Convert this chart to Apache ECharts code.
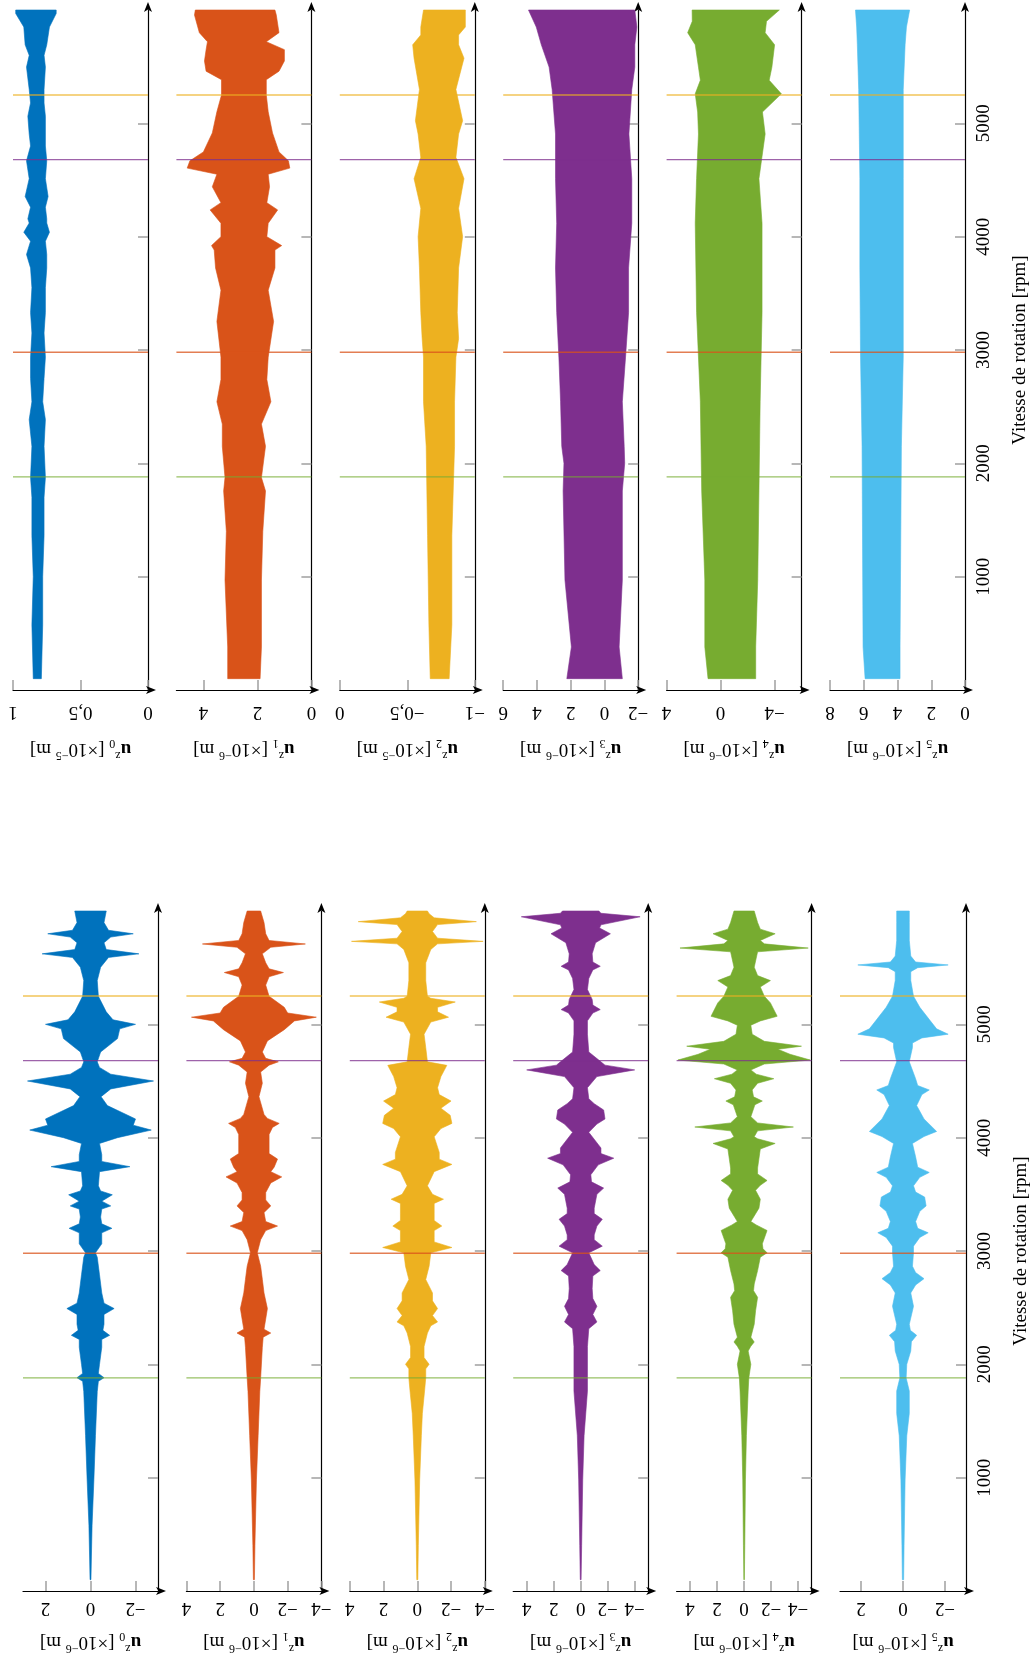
<!DOCTYPE html>
<html><head><meta charset="utf-8">
<script src="https://cdn.jsdelivr.net/npm/echarts@6.0.0/dist/echarts.min.js"></script>
<style>html,body{margin:0;padding:0;background:#fff}#c{width:1032px;height:1659px}</style>
</head><body><div id="c"></div>
<script>
// ---------- data ----------
const seriesColors = ['#0072BD','#D95319','#EDB120','#7E2F8E','#77AC30','#4DBEEE'];
const criticalSpeeds = [1880, 2980, 4680, 5250];
const criticalColors = ['#77AC30','#D95319','#7E2F8E','#EDB120'];
const rpmTicks = [1000, 2000, 3000, 4000, 5000];
const rpmLabel = 'Vitesse de rotation [rpm]';

// top group: mean-displacement bands [rpm, low, high]
const u0Band = [[100,0.79,0.85],[575,0.78,0.86],[1000,0.78,0.85],[1362,0.77,0.86],[1700,0.77,0.86],[1874,0.76,0.87],[2150,0.77,0.86],[2386,0.76,0.88],[2543,0.78,0.86],[2750,0.77,0.87],[2937,0.76,0.87],[3150,0.77,0.86],[3330,0.76,0.87],[3550,0.76,0.86],[3724,0.75,0.87],[3843,0.75,0.90],[3960,0.76,0.87],[4039,0.73,0.92],[4120,0.75,0.88],[4157,0.75,0.89],[4260,0.76,0.87],[4354,0.74,0.91],[4512,0.76,0.88],[4669,0.75,0.90],[4800,0.76,0.87],[4906,0.76,0.88],[5063,0.76,0.89],[5180,0.77,0.87],[5299,0.77,0.88],[5496,0.76,0.90],[5600,0.77,0.88],[5693,0.75,0.91],[5850,0.73,0.92],[5969,0.68,0.98],[6000,0.68,0.98]];
const u1Band = [[100,1.9,3.1],[380,1.85,3.1],[970,1.85,3.2],[1400,1.8,3.15],[1756,1.7,3.25],[1874,1.85,3.2],[2150,1.7,3.3],[2346,1.85,3.3],[2543,1.5,3.5],[2740,1.65,3.35],[2937,1.6,3.35],[3252,1.4,3.5],[3528,1.6,3.35],[3724,1.35,3.55],[3882,1.35,3.6],[3921,1.1,3.7],[4000,1.65,3.35],[4118,1.6,3.35],[4236,1.25,3.75],[4300,1.65,3.35],[4440,1.55,3.67],[4551,1.6,3.5],[4605,0.8,4.6],[4669,0.85,4.5],[4748,1.2,4.0],[4915,1.44,3.67],[5102,1.6,3.5],[5250,1.67,3.33],[5385,1.67,3.33],[5460,1.2,3.9],[5550,1.0,3.96],[5650,1.0,3.9],[5720,1.67,3.85],[5800,1.2,4.15],[5955,1.3,4.33],[6000,1.35,4.3]];
const u2Band = [[100,-0.81,-0.67],[575,-0.83,-0.66],[1362,-0.83,-0.65],[2150,-0.85,-0.64],[2543,-0.85,-0.62],[2937,-0.86,-0.62],[3100,-0.88,-0.61],[3330,-0.87,-0.60],[3724,-0.88,-0.59],[4000,-0.91,-0.58],[4250,-0.88,-0.60],[4512,-0.92,-0.55],[4700,-0.86,-0.60],[4906,-0.88,-0.58],[5023,-0.91,-0.56],[5299,-0.86,-0.59],[5575,-0.92,-0.55],[5693,-0.88,-0.54],[5780,-0.88,-0.60],[5850,-0.93,-0.60],[6000,-0.93,-0.62]];
const u3Band = [[100,-1.06,2.23],[380,-0.87,1.96],[970,-1.06,2.34],[1756,-1.06,2.45],[2000,-1.2,2.4],[2150,-1.17,2.53],[2543,-1.06,2.6],[2937,-1.25,2.7],[3330,-1.43,2.83],[3724,-1.43,2.9],[4118,-1.62,2.83],[4512,-1.62,2.9],[4906,-1.45,2.9],[5299,-1.62,3.1],[5496,-1.8,3.28],[5693,-1.8,3.74],[5850,-1.92,4.04],[6000,-1.8,4.5]];
const u4Band = [[100,-2.6,0.93],[380,-2.6,1.17],[970,-2.75,1.17],[1756,-2.84,1.4],[2543,-2.93,1.5],[3330,-3.07,1.78],[4118,-3.07,1.88],[4512,-2.84,1.78],[4906,-3.3,1.64],[5100,-3.1,1.7],[5260,-4.5,1.88],[5380,-3.6,1.5],[5496,-3.8,1.64],[5693,-4.0,1.88],[5800,-3.3,2.44],[5900,-3.4,2.1],[6000,-4.35,2.11]];
const u5Band = [[100,3.85,5.92],[380,3.85,6.04],[2150,3.77,6.1],[2937,3.66,6.19],[3724,3.66,6.23],[4512,3.66,6.23],[5299,3.66,6.3],[5693,3.55,6.38],[5850,3.47,6.42],[6000,3.28,6.49]];

// bottom group: oscillation envelopes [rpm, amplitude]
const u0Osc = [[100,0.02],[300,0.04],[580,0.07],[980,0.15],[1370,0.22],[1760,0.3],[1850,0.35],[1882,0.6],[1920,0.35],[2000,0.4],[2150,0.5],[2220,0.5],[2256,0.85],[2300,0.55],[2354,0.6],[2440,0.6],[2492,1.05],[2540,0.6],[2630,0.5],[2790,0.4],[2945,0.3],[2984,0.22],[3063,0.5],[3160,0.5],[3200,0.95],[3240,0.5],[3300,0.45],[3370,0.5],[3398,0.9],[3440,0.5],[3496,0.97],[3530,0.45],[3575,0.35],[3700,0.4],[3744,1.75],[3790,0.5],[3850,0.5],[3949,0.4],[4000,1.2],[4067,2.7],[4110,1.9],[4165,2.0],[4283,0.75],[4362,0.47],[4430,0.9],[4500,2.8],[4560,0.9],[4620,0.4],[4669,0.3],[4756,0.45],[4874,1.2],[4960,1.3],[5000,2.0],[5040,1.0],[5110,0.7],[5248,0.35],[5386,0.3],[5504,0.45],[5590,0.8],[5622,2.15],[5660,0.7],[5720,0.6],[5770,0.9],[5799,1.9],[5830,0.8],[5898,0.6],[6000,0.7]];
const u1Osc = [[100,0.03],[400,0.06],[980,0.15],[1370,0.25],[1760,0.35],[1880,0.4],[2150,0.5],[2240,0.55],[2276,1.0],[2310,0.6],[2400,0.7],[2492,0.8],[2630,0.6],[2750,0.5],[2866,0.4],[2984,0.2],[3100,0.4],[3180,0.7],[3220,1.4],[3260,0.7],[3339,0.6],[3398,1.0],[3450,0.7],[3516,0.7],[3600,1.0],[3654,1.65],[3700,1.0],[3740,1.2],[3811,1.4],[3860,0.9],[3909,0.9],[4028,0.9],[4090,1.1],[4126,1.5],[4170,0.8],[4205,0.6],[4362,0.3],[4480,0.5],[4579,0.4],[4640,0.9],[4669,1.45],[4700,0.7],[4756,0.5],[4854,0.8],[4953,1.8],[5030,2.4],[5063,3.7],[5100,2.0],[5150,1.8],[5248,0.9],[5346,0.7],[5420,0.9],[5457,1.75],[5490,0.9],[5543,0.7],[5622,0.5],[5680,1.0],[5709,3.05],[5740,0.9],[5799,0.7],[5898,0.6],[6000,0.4]];
const u2Osc = [[100,0.03],[400,0.06],[980,0.14],[1370,0.24],[1567,0.3],[1764,0.43],[1880,0.5],[1960,0.5],[2000,0.7],[2060,0.4],[2157,0.4],[2276,0.6],[2340,0.8],[2374,1.2],[2430,0.9],[2492,1.2],[2560,0.9],[2630,0.9],[2748,0.5],[2866,0.7],[2984,0.8],[3031,2.05],[3080,1.0],[3122,1.0],[3180,1.0],[3220,1.45],[3270,1.0],[3330,1.0],[3420,1.0],[3457,1.55],[3500,0.9],[3575,0.6],[3700,1.0],[3764,2.05],[3810,1.3],[3870,1.3],[4008,1.0],[4080,1.4],[4126,2.05],[4197,1.95],[4260,1.4],[4323,2.0],[4380,1.3],[4441,1.2],[4539,1.4],[4638,1.75],[4669,0.6],[4795,0.5],[4913,0.4],[5020,0.8],[5063,1.85],[5110,1.2],[5150,1.2],[5197,2.25],[5230,0.8],[5248,0.6],[5386,0.5],[5543,0.5],[5661,0.8],[5710,1.2],[5732,3.9],[5760,1.2],[5819,0.9],[5880,1.2],[5906,3.5],[5940,1.0],[5976,0.7],[6000,0.6]];
const u3Osc = [[100,0.03],[400,0.07],[980,0.15],[1370,0.25],[1764,0.5],[1880,0.5],[2157,0.5],[2315,0.6],[2374,1.2],[2440,0.9],[2512,1.2],[2580,0.9],[2669,0.85],[2780,0.9],[2827,1.45],[2880,1.0],[2984,0.6],[3043,1.6],[3100,1.0],[3142,1.0],[3220,1.2],[3280,1.6],[3330,1.0],[3378,1.0],[3500,1.2],[3555,1.7],[3610,0.8],[3673,0.75],[3760,1.3],[3819,2.45],[3860,1.5],[3909,1.5],[4047,0.6],[4120,1.2],[4165,1.8],[4244,1.7],[4300,1.0],[4343,0.6],[4441,0.5],[4539,1.2],[4598,4.0],[4640,1.8],[4669,1.5],[4756,0.6],[4913,0.5],[5031,0.5],[5100,0.9],[5130,1.45],[5170,0.9],[5220,0.85],[5307,0.5],[5405,0.6],[5480,0.9],[5512,1.45],[5550,0.9],[5622,0.85],[5720,1.1],[5799,2.2],[5850,1.4],[5878,1.5],[5949,4.4],[5980,1.5],[6000,1.35]];
const u4Osc = [[100,0.02],[400,0.05],[980,0.1],[1370,0.17],[1764,0.3],[1880,0.35],[2000,0.5],[2118,0.3],[2160,0.5],[2197,0.75],[2240,0.5],[2354,0.75],[2472,0.85],[2591,1.0],[2650,0.7],[2709,0.75],[2827,1.0],[2945,1.2],[2984,1.7],[3020,1.4],[3063,1.35],[3181,1.7],[3230,0.9],[3260,0.5],[3378,1.1],[3457,1.2],[3535,0.85],[3580,1.2],[3622,1.7],[3680,1.0],[3732,1.0],[3900,1.2],[3949,2.3],[3990,1.0],[4008,0.75],[4060,1.0],[4094,3.65],[4130,1.0],[4185,0.5],[4290,0.8],[4323,1.35],[4360,0.7],[4421,0.6],[4480,1.0],[4520,2.2],[4560,0.9],[4598,0.5],[4650,1.5],[4685,4.9],[4736,3.4],[4780,2.5],[4807,4.25],[4850,1.5],[4913,0.6],[4992,0.5],[5030,1.2],[5071,2.45],[5189,1.95],[5248,1.5],[5330,1.2],[5386,1.95],[5430,1.0],[5504,0.75],[5640,1.0],[5673,4.75],[5710,1.5],[5740,1.2],[5799,2.3],[5840,1.2],[5898,1.0],[6000,0.75]];
const u5Osc = [[100,0.03],[400,0.05],[980,0.1],[1370,0.18],[1567,0.3],[1764,0.3],[1880,0.15],[2000,0.18],[2118,0.37],[2200,0.4],[2256,0.65],[2300,0.35],[2354,0.3],[2512,0.5],[2630,0.37],[2700,0.6],[2756,1.0],[2810,0.6],[2866,0.45],[2984,0.5],[3043,0.5],[3120,0.8],[3161,1.2],[3200,0.7],[3260,0.6],[3350,0.8],[3398,1.1],[3476,1.03],[3520,0.6],[3575,0.5],[3650,0.8],[3693,1.25],[3740,0.7],[3831,0.6],[3949,0.45],[4010,1.0],[4055,1.6],[4165,1.0],[4283,0.65],[4380,0.9],[4421,1.25],[4460,0.7],[4520,0.6],[4669,0.3],[4795,0.45],[4835,0.45],[4880,0.9],[4913,2.15],[4960,1.6],[5031,1.3],[5150,0.8],[5248,0.5],[5386,0.37],[5465,0.37],[5500,0.7],[5524,2.15],[5550,0.6],[5602,0.37],[5740,0.3],[5898,0.3],[6000,0.3]];

// axis ranges and tick labels
const topRanges = [[0,1],[0,5],[-1,0],[-2,6],[-6,4],[0,8]];
const topTickLabels = [[0,0.5,1],[0,2,4],[-1,-0.5,0],[-2,0,2,4,6],[-4,0,4],[0,2,4,6,8]];
const topExponents = ['−5','−6','−5','−6','−6','−6'];
const botRanges = [[-3,3],[-4,4],[-4,4],[-5,5],[-5,5],[-3,3]];
const botTickLabels = [[-2,0,2],[-4,-2,0,2,4],[-4,-2,0,2,4],[-4,-2,0,2,4],[-4,-2,0,2,4],[-2,0,2]];
const botExponents = ['−6','−6','−6','−6','−6','−6'];

const topBands = [u0Band,u1Band,u2Band,u3Band,u4Band,u5Band];
const botOsc = [u0Osc,u1Osc,u2Osc,u3Osc,u4Osc,u5Osc];

// ---------- chart ----------
const FONT = '"Liberation Serif", "DejaVu Serif", serif';
const fmt = v => String(v).replace('-', '−').replace('.', ',');

const grids = [], xAxes = [], yAxes = [], series = [];

function addPanel(idx, k, left, top, range, ticks, exp, data, isBand, group) {
  grids.push({left: left, top: top, width: 135, height: 680});
  xAxes.push({
    gridIndex: idx, type: 'value', min: range[0], max: range[1], inverse: true,
    position: 'bottom',
    axisLine: {show: true, onZero: false, symbol: ['none','arrow'], symbolSize: [6, 10], symbolOffset: [0, 8],
      lineStyle: {color: '#000', width: 1.2}},
    axisTick: {show: true, inside: true, length: 10, customValues: ticks, lineStyle: {color: '#a0a0a0', width: 1.5}},
    axisLabel: {show: true, customValues: ticks, rotate: 180, margin: group === 0 ? 12 : 7,
      fontFamily: FONT, fontSize: 19, color: '#000', formatter: fmt},
    splitLine: {show: false},
    name: `{b|u}{sup|z}{sub|${k}}{t| [×10}{sup|${exp}}{t| m]}`,
    nameLocation: 'middle', nameRotate: 180, nameGap: group === 0 ? 47 : 39,
    nameTextStyle: {fontFamily: FONT, fontSize: 19, color: '#000', rich: {
      b: {fontFamily: FONT, fontSize: 19, fontWeight: 'bold', color: '#000', lineHeight: 24, verticalAlign: 'middle'},
      t: {fontFamily: FONT, fontSize: 19, color: '#000', lineHeight: 24, verticalAlign: 'middle'},
      sup: {fontFamily: FONT, fontSize: 12, color: '#000', lineHeight: 12, verticalAlign: 'top'},
      sub: {fontFamily: FONT, fontSize: 12, color: '#000', lineHeight: 12, verticalAlign: 'bottom'}
    }}
  });
  const last = k === 5;
  yAxes.push({
    gridIndex: idx, type: 'value', min: 0, max: 6000, position: 'right',
    axisLine: {show: true, onZero: false, symbol: ['none','arrow'], symbolSize: [6, 10], symbolOffset: [0, 8],
      lineStyle: {color: '#000', width: 1.2}},
    axisTick: {show: true, inside: true, length: 10, customValues: rpmTicks, lineStyle: {color: '#a0a0a0', width: 1.5}},
    axisLabel: {show: last, customValues: rpmTicks, rotate: 90, margin: 10,
      fontFamily: FONT, fontSize: 19, color: '#000', formatter: v => String(v)},
    splitLine: {show: false},
    name: last ? rpmLabel : '', nameLocation: 'middle', nameRotate: 90, nameGap: 46,
    nameTextStyle: {fontFamily: FONT, fontSize: 19, color: '#000'}
  });
  const color = seriesColors[k];
  const rows = isBand ? data.map(p => [p[1], p[2], p[0]]) : data.map(p => [-p[1], p[1], p[0]]);
  series.push({
    type: 'custom', xAxisIndex: idx, yAxisIndex: idx, data: rows, encode: {x: [0,1], y: 2},
    silent: true, animation: false, z: 2,
    renderItem: (params, api) => {
      if (params.dataIndexInside !== 0) return null;
      const n = params.dataInsideLength;
      const a = [], b = [];
      for (let j = 0; j < n; j++) {
        a.push(api.coord([api.value(0, j), api.value(2, j)]));
        b.push(api.coord([api.value(1, j), api.value(2, j)]));
      }
      return {type: 'polygon', shape: {points: a.concat(b.reverse())},
        style: {fill: color, stroke: color, lineWidth: 0.6}};
    }
  });
  series.push({
    type: 'custom', xAxisIndex: idx, yAxisIndex: idx, data: criticalSpeeds.map(v => [range[0], range[1], v]),
    encode: {x: [0,1], y: 2}, silent: true, animation: false, z: 5,
    renderItem: (params, api) => {
      const p1 = api.coord([api.value(0), api.value(2)]);
      const p2 = api.coord([api.value(1), api.value(2)]);
      return {type: 'line', shape: {x1: p1[0], y1: p1[1], x2: p2[0], y2: p2[1]},
        style: {stroke: criticalColors[params.dataIndex], lineWidth: 1.3, opacity: 0.75}};
    }
  });
}

for (let k = 0; k < 6; k++) {
  addPanel(k, k, 13 + 163.4 * k, 10, topRanges[k], topTickLabels[k], topExponents[k], topBands[k], true, 0);
}
for (let k = 0; k < 6; k++) {
  addPanel(6 + k, k, 23 + 163.4 * k, 911, botRanges[k], botTickLabels[k], botExponents[k], botOsc[k], false, 1);
}

const chart = echarts.init(document.getElementById('c'), null, {renderer: 'canvas'});
chart.setOption({animation: false, backgroundColor: '#fff', grid: grids, xAxis: xAxes, yAxis: yAxes, series: series});
</script></body></html>
